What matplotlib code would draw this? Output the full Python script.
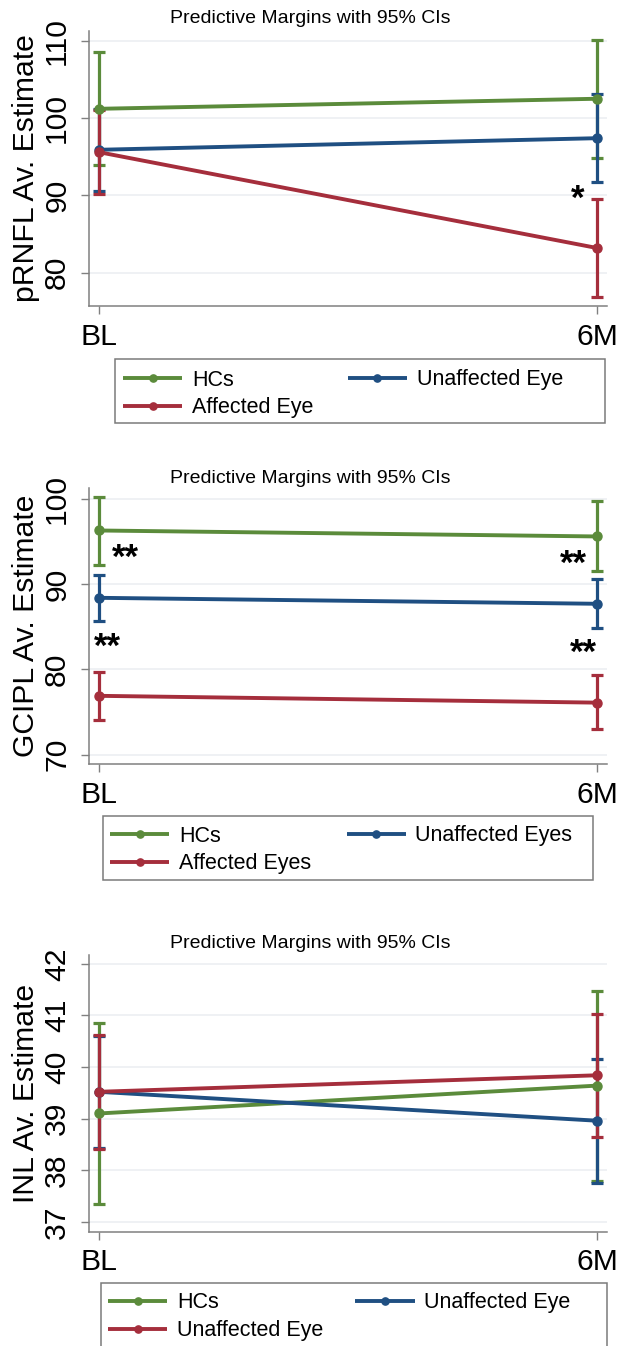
import matplotlib
matplotlib.use("Agg")
import matplotlib.pyplot as plt
from matplotlib.patches import Rectangle

plt.rcParams['font.family'] = ['Liberation Sans', 'DejaVu Sans']

# ---------------- data ----------------
timepoints = ["BL", "6M"]
title_text = "Predictive Margins with 95% CIs"

# Panel 1: pRNFL
p1_ylabel = "pRNFL Av. Estimate"
p1_yticks = [80, 90, 100, 110]
p1_hc_mean = [101.2, 102.5]
p1_hc_lo = [93.9, 94.8]
p1_hc_hi = [108.6, 110.1]
p1_un_mean = [95.9, 97.4]
p1_un_lo = [90.6, 91.7]
p1_un_hi = [101.2, 103.1]
p1_af_mean = [95.6, 83.2]
p1_af_lo = [90.2, 76.9]
p1_af_hi = [101.0, 89.6]
p1_labels = ["HCs", "Unaffected Eye", "Affected Eye"]
p1_stars = ["*"]
p1_star_x = [0.961]
p1_star_y = [90.9]

# Panel 2: GCIPL
p2_ylabel = "GCIPL Av. Estimate"
p2_yticks = [70, 80, 90, 100]
p2_hc_mean = [96.3, 95.6]
p2_hc_lo = [92.2, 91.5]
p2_hc_hi = [100.2, 99.8]
p2_un_mean = [88.4, 87.7]
p2_un_lo = [85.7, 84.8]
p2_un_hi = [91.05, 90.65]
p2_af_mean = [76.9, 76.1]
p2_af_lo = [74.1, 73.0]
p2_af_hi = [79.7, 79.3]
p2_labels = ["HCs", "Unaffected Eyes", "Affected Eyes"]
p2_stars = ["**", "**", "**", "**"]
p2_star_x = [0.053, 0.017, 0.952, 0.973]
p2_star_y = [94.3, 83.8, 93.6, 83.1]

# Panel 3: INL
p3_ylabel = "INL Av. Estimate"
p3_yticks = [37, 38, 39, 40, 41, 42]
p3_hc_mean = [39.10, 39.64]
p3_hc_lo = [37.35, 37.80]
p3_hc_hi = [40.85, 41.48]
p3_un_mean = [39.52, 38.96]
p3_un_lo = [38.43, 37.76]
p3_un_hi = [40.61, 40.16]
p3_af_mean = [39.52, 39.84]
p3_af_lo = [38.42, 38.65]
p3_af_hi = [40.62, 41.03]
p3_labels = ["HCs", "Unaffected Eye", "Unaffected Eye"]
p3_stars = []
p3_star_x = []
p3_star_y = []

# ---------------- style ----------------
W, H = 626, 1346
C_HC = '#5b8b3b'
C_UN = '#1f4f82'
C_AF = '#a52e3c'

fig = plt.figure(figsize=(W / 100, H / 100), dpi=100)

def fx(px):
    return px / W

def fy(py):
    return 1 - py / H

x_pos = [0, 1]

panels = [
    dict(top=30.7, bottom=306, ylim=(75.7, 111.3), yticks=p1_yticks, ylabel=p1_ylabel,
         hc=(p1_hc_mean, p1_hc_lo, p1_hc_hi), un=(p1_un_mean, p1_un_lo, p1_un_hi),
         af=(p1_af_mean, p1_af_lo, p1_af_hi), labels=p1_labels,
         stars=(p1_stars, p1_star_x, p1_star_y), title_base=23.3,
         leg_box=(115, 359.3, 605, 422.7), leg_hx=123, leg_row=379, colsp=1.6),
    dict(top=488.3, bottom=764, ylim=(68.9, 101.25), yticks=p2_yticks, ylabel=p2_ylabel,
         hc=(p2_hc_mean, p2_hc_lo, p2_hc_hi), un=(p2_un_mean, p2_un_lo, p2_un_hi),
         af=(p2_af_mean, p2_af_lo, p2_af_hi), labels=p2_labels,
         stars=(p2_stars, p2_star_x, p2_star_y), title_base=483.3,
         leg_box=(103, 816, 593, 880), leg_hx=110, leg_row=835, colsp=1.65),
    dict(top=955, bottom=1231.7, ylim=(36.81, 42.17), yticks=p3_yticks, ylabel=p3_ylabel,
         hc=(p3_hc_mean, p3_hc_lo, p3_hc_hi), un=(p3_un_mean, p3_un_lo, p3_un_hi),
         af=(p3_af_mean, p3_af_lo, p3_af_hi), labels=p3_labels,
         stars=(p3_stars, p3_star_x, p3_star_y), title_base=948,
         leg_box=(101, 1282.7, 607, 1360), leg_hx=108, leg_row=1301.7, colsp=1.5),
]

left_px, right_px = 89.3, 607
bl_px, m6_px = 98.7, 597
unit = m6_px - bl_px
xlim = ((left_px - bl_px) / unit, (right_px - bl_px) / unit)

LEG_FS = 15.5
STAR_FS = 25
for p in panels:
    ax = fig.add_axes([fx(left_px), fy(p['bottom']), fx(right_px - left_px),
                       (p['bottom'] - p['top']) / H])
    ax.set_xlim(*xlim)
    ax.set_ylim(*p['ylim'])
    for s in ['top', 'right']:
        ax.spines[s].set_visible(False)
    for s in ['left', 'bottom']:
        ax.spines[s].set_color('#808080')
        ax.spines[s].set_linewidth(1.1)
    ax.set_yticks(p['yticks'])
    ax.set_xticks(x_pos)
    ax.set_xticklabels(timepoints)
    ax.tick_params(axis='y', labelrotation=90, labelsize=21.7, length=6, width=1,
                   color='#808080', pad=7)
    ax.tick_params(axis='x', labelsize=21.7, length=6, width=1, color='#808080', pad=6)
    for lab in ax.get_yticklabels():
        lab.set_va('center')
    ax.grid(axis='y', color='#eceff2', linewidth=1.2)
    ax.set_axisbelow(True)
    ax.set_ylabel(p['ylabel'], fontsize=21.7, labelpad=2)

    groups = [(p['hc'], C_HC, p['labels'][0]),
              (p['un'], C_UN, p['labels'][1]),
              (p['af'], C_AF, p['labels'][2])]
    for (mean, lo, hi), col, lab in groups:
        yerr = [[m - l for m, l in zip(mean, lo)], [h - m for m, h in zip(mean, hi)]]
        ax.errorbar(x_pos, mean, yerr=yerr, fmt='none', ecolor=col, elinewidth=2.3,
                    capsize=4.5, capthick=2.3, zorder=2)
    handles = []
    for (mean, lo, hi), col, lab in groups:
        ln, = ax.plot(x_pos, mean, color=col, lw=2.8, marker='o', markersize=6.5,
                      label=lab, zorder=3, solid_capstyle='butt')
        handles.append(ln)

    s_txt, s_x, s_y = p['stars']
    for t, xx, yy in zip(s_txt, s_x, s_y):
        ax.annotate(t, xy=(xx, yy), xytext=(0, -0.58 * STAR_FS), textcoords='offset points',
                    ha='center', va='baseline', fontsize=STAR_FS, fontweight='bold',
                    color='black')

    fig.text(fx(310), fy(p['title_base']), title_text, ha='center', va='baseline',
             fontsize=14)

    # legend frame
    x0, y0, x1, y1 = p['leg_box']
    fig.patches.append(Rectangle((fx(x0), fy(y1)), fx(x1 - x0), (y1 - y0) / H,
                                 transform=fig.transFigure, fill=False,
                                 edgecolor='#7a7a7a', linewidth=1.1))
    row_h = 19
    order = [handles[0], handles[2], handles[1]]
    fig.legend(order, [h.get_label() for h in order], loc='upper left',
               bbox_to_anchor=(fx(p['leg_hx']), fy(p['leg_row'] - row_h / 2)),
               ncol=2, frameon=False, fontsize=LEG_FS, borderpad=0, borderaxespad=0,
               handlelength=2.75, handletextpad=0.45, columnspacing=p['colsp'],
               labelspacing=0.32, markerscale=0.8)

fig.savefig('out.png', dpi=100)
